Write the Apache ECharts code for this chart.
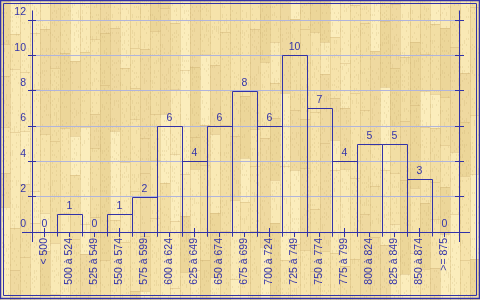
<!DOCTYPE html>
<html>
<head>
<meta charset="utf-8">
<script src="https://cdn.jsdelivr.net/npm/echarts@6/dist/echarts.min.js"></script>
<style>
html,body{margin:0;padding:0;}
#chart{width:480px;height:300px;}
</style>
</head>
<body>
<div id="chart"></div>
<script>
// ---- data ----
const categories = ['< 500','500 à 524','525 à 549','550 à 574','575 à 599','600 à 624','625 à 649','650 à 674','675 à 699','700 à 724','725 à 749','750 à 774','775 à 799','800 à 824','825 à 849','850 à 874','>= 875'];
const counts = [0,1,0,1,2,6,4,6,8,6,10,7,4,5,5,3,0];
const yMin = 0, yMax = 12, yStep = 2;

// ---- style ----
const INK = '#3232a8';
const TXT = '#3434aa';
const GRIDC = '#b0b4dc';
const FONT = 'Liberation Sans';

// wood background (decorative texture)
function hash(a,b){const s=Math.sin(a*12.9898+b*78.233)*43758.5453;return s-Math.floor(s);}
(function(){
  const c=document.createElement('canvas');c.width=480;c.height=300;
  const g=c.getContext('2d');
  const shades=['#f9e9b5','#f2dea4','#ecd699','#f6e3ab','#fbedbc','#efd9a0'];
  g.fillStyle='#f2dea6';g.fillRect(0,0,480,300);
  for(let i=0;i<48;i++){
    let y=-Math.floor(hash(i,0)*60);let j=1;
    while(y<300){
      const len=30+Math.floor(hash(i,j)*80);
      g.fillStyle=shades[Math.floor(hash(j,i+3)*shades.length)];
      g.fillRect(i*10,y,10,len);
      g.fillStyle='rgba(200,170,110,0.35)';
      g.fillRect(i*10,y,10,1);
      y+=len;j++;
    }
    g.fillStyle='rgba(205,178,115,0.35)';
    g.fillRect(i*10,0,1,300);
  }
  // fine grain speckles
  for(let x=0;x<480;x+=2){for(let y=0;y<300;y+=2){
    const h=hash(x*0.37,y*0.53);
    if(h>0.8){g.fillStyle='rgba(190,160,100,0.18)';g.fillRect(x,y,1,2);}
  }}
  document.getElementById('chart').style.background='url('+c.toDataURL()+')';
})();

const chart = echarts.init(document.getElementById('chart'), null, {renderer:'canvas'});
const GL=32, GR=23, GT=20, GB=68;

const commonX = {type:'category', data:categories, boundaryGap:true, position:'bottom', axisLine:{show:false}};
const yBase = {type:'value', min:yMin, max:yMax, interval:yStep, axisLine:{show:false}, splitLine:{show:false}, axisLabel:{show:false}};

chart.setOption({
  backgroundColor:'transparent',
  animation:false,
  grid:{left:GL,right:GR,top:GT,bottom:GB},
  xAxis:[
    Object.assign({}, commonX, {
      axisTick:{show:true, alignWithLabel:true, length:5, lineStyle:{color:INK}},
      axisLabel:{rotate:90, margin:6, color:TXT, fontFamily:FONT, fontSize:10.5, interval:0}
    }),
    Object.assign({}, commonX, {
      axisTick:{show:true, alignWithLabel:true, inside:true, length:4, lineStyle:{color:INK}},
      axisLabel:{show:false}
    })
  ],
  yAxis:[
    Object.assign({}, yBase, {position:'left',
      axisTick:{show:true, length:4, lineStyle:{color:INK}},
      axisLabel:{show:true, color:TXT, fontFamily:FONT, fontSize:10.5, margin:6, verticalAlign:'bottom', padding:[0,0,2,0]},
      splitLine:{show:true, lineStyle:{color:GRIDC, width:1}}
    }),
    Object.assign({}, yBase, {position:'left', axisTick:{show:true, inside:true, length:4, lineStyle:{color:INK}}}),
    Object.assign({}, yBase, {position:'right', offset:2, axisTick:{show:true, length:5, lineStyle:{color:INK}}}),
    Object.assign({}, yBase, {position:'right', offset:2, axisTick:{show:true, inside:true, length:4, lineStyle:{color:INK}}})
  ],
  graphic:[
    {type:'rect', shape:{x:0.5,y:0.5,width:479,height:298}, style:{fill:'none', stroke:INK, lineWidth:1.5}, silent:true},
    {type:'rect', shape:{x:3.5,y:3.5,width:473,height:292}, style:{fill:'none', stroke:INK, lineWidth:1}, silent:true},
    {type:'line', shape:{x1:32.5,y1:10.5,x2:32.5,y2:242}, style:{stroke:INK, lineWidth:1}, silent:true, z:10},
    {type:'line', shape:{x1:459.5,y1:10.5,x2:459.5,y2:242}, style:{stroke:INK, lineWidth:1}, silent:true, z:10},
    {type:'line', shape:{x1:22,y1:232.5,x2:470,y2:232.5}, style:{stroke:INK, lineWidth:1}, silent:true, z:10}
  ],
  series:[{
    type:'custom',
    xAxisIndex:0, yAxisIndex:0,
    data: counts.map((v,i)=>[i,v]),
    encode:{x:0,y:1},
    renderItem:function(params, api){
      const idx=api.value(0), v=api.value(1);
      const top=api.coord([idx,v]);
      const base=api.coord([idx,0]);
      const w=api.size([1,0])[0];
      const x0=Math.round(top[0]-w/2)+0.5, x1=Math.round(top[0]+w/2)+0.5;
      const yt=Math.round(top[1])+0.5, yb=Math.round(base[1])+4.5;
      const children=[];
      if(v>0){
        children.push({type:'polyline', shape:{points:[[x0,yb],[x0,yt],[x1,yt],[x1,yb]]}, style:{fill:'none', stroke:INK, lineWidth:1}});
      }
      children.push({type:'text', style:{text:String(v), x:top[0], y:yt-2.5, align:'center', verticalAlign:'bottom', fill:TXT, font:'10.5px "'+FONT+'"'}});
      return {type:'group', children:children};
    }
  }]
});
</script>
</body>
</html>
